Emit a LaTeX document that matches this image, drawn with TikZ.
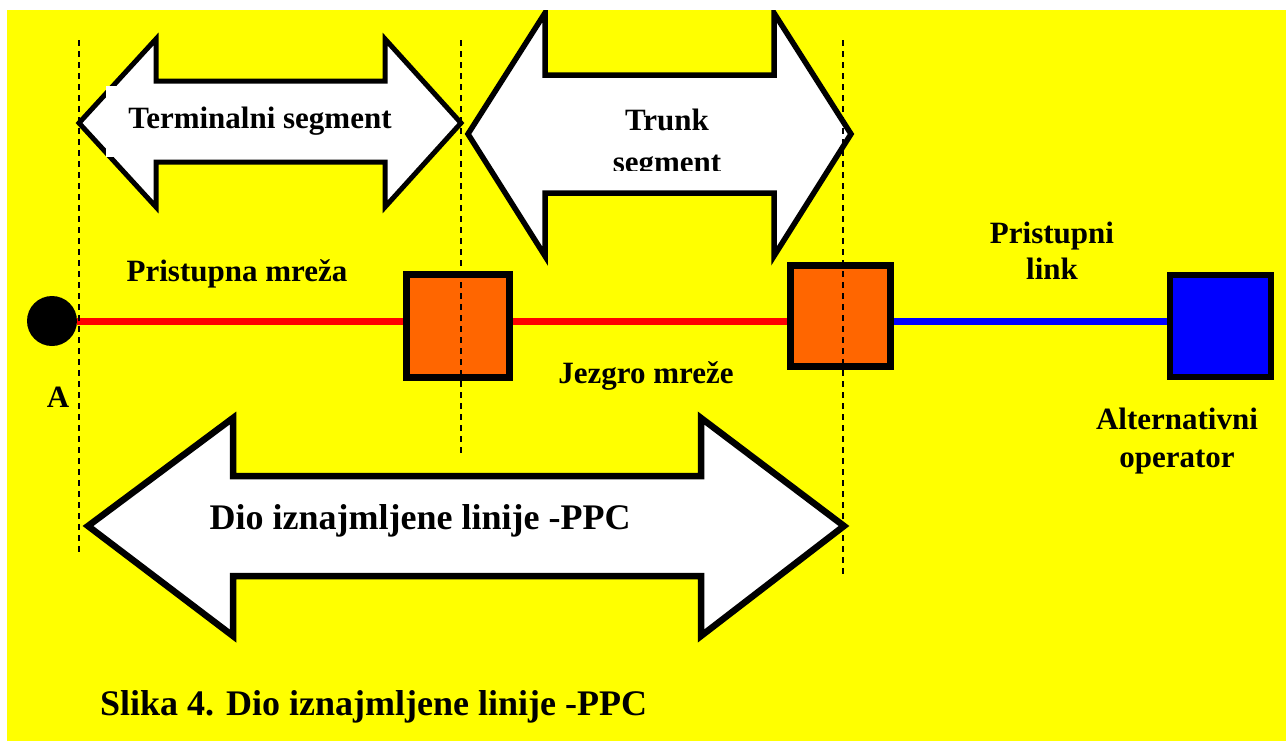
\documentclass[tikz,border=0pt]{standalone}
\usepackage{fontspec}
\setmainfont{Liberation Serif}
\definecolor{bgyellow}{HTML}{FFFF00}
\definecolor{boxorange}{HTML}{FF6600}
\definecolor{boxblue}{HTML}{0000FF}
\definecolor{linered}{HTML}{FF0000}
\begin{document}
\begin{tikzpicture}[x=1pt,y=-1pt,
  lbl/.style={font=\bfseries\fontsize{31}{36}\selectfont, inner sep=0pt, text=black},
  biglbl/.style={font=\bfseries\fontsize{36}{40}\selectfont, inner sep=0pt, text=black},
  segarrow/.style={draw=black, fill=white, line join=miter},
  sqbox/.style={draw=black, line width=7pt, inner sep=0pt},
  conn/.style={line width=7pt},
  guide/.style={draw=black, line width=1.4pt, dash pattern=on 6pt off 5pt}]
\useasboundingbox (0,0) rectangle (1286,742);
\fill[bgyellow] (7,10) rectangle (1286,741);

\begin{scope}
\clip (7,10) rectangle (1286,741);
% Terminalni segment arrow
\draw[segarrow, line width=5pt] (79,123) -- (156,39) -- (156,81) -- (385,81) -- (385,39)
  -- (461,123) -- (385,207) -- (385,162) -- (156,162) -- (156,207) -- cycle;
\fill[white] (106,86) rectangle (414,157);
% Trunk segment arrow
\draw[segarrow, line width=5.5pt] (468,134) -- (545,13) -- (545,75) -- (774,75) -- (774,13)
  -- (851,134) -- (774,256) -- (774,193) -- (545,193) -- (545,256) -- cycle;
% Dio iznajmljene linije arrow
\draw[segarrow, line width=6.5pt] (88,526) -- (233,418) -- (233,476) -- (701,476) -- (701,418)
  -- (844,526) -- (701,636) -- (701,576) -- (233,576) -- (233,636) -- cycle;
\end{scope}

% nodes
\node[circle, fill=black, minimum width=50pt, minimum height=50pt, inner sep=0pt] (A) at (52,321) {};
\node[sqbox, fill=boxorange, minimum width=103pt, minimum height=103pt] (s1) at (458,326) {};
\node[sqbox, fill=boxorange, minimum width=100pt, minimum height=101pt] (s2) at (840.5,316) {};
\node[sqbox, line width=6pt, fill=boxblue, minimum width=101pt, minimum height=102pt] (b) at (1220.5,326) {};

% connectors
\draw[conn, linered] (A.east |- 0,321.5) -- (s1.west |- 0,321.5);
\draw[conn, linered] (s1.east |- 0,321.5) -- (s2.west |- 0,321.5);
\draw[conn, boxblue] (s2.east |- 0,321.5) -- (b.west |- 0,321.5);

% dashed guides
\coordinate (g1t) at (79,40);  \coordinate (g1b) at (79,552);
\coordinate (g2t) at (461,40); \coordinate (g2b) at (461,456);
\coordinate (g3t) at (843,40); \coordinate (g3b) at (843,578);
\draw[guide] (g1t) -- (g1b);
\draw[guide] (g2t) -- (g2b);
\draw[guide] (g3t) -- (g3b);

% texts
\node[lbl, anchor=base] (tterm) at (260,128) {Terminalni segment};
\begin{scope}
\clip (470,80) rectangle (860,170);
\node[lbl, anchor=base] (ttrunk) at (667,130) {Trunk};
\node[lbl, anchor=base] (tseg) at (667,172) {segment};
\end{scope}
\node[lbl, anchor=base] (tpm) at (237,281) {Pristupna mreža};
\node[lbl, anchor=base] (tA) at (58,407) {A};
\node[lbl, anchor=base] (tjm) at (646,383) {Jezgro mreže};
\node[lbl, anchor=base] (tpl1) at (1052,243) {Pristupni};
\node[lbl, anchor=base] (tpl2) at (1052,279) {link};
\node[lbl, anchor=base] (tao1) at (1177,429) {Alternativni};
\node[lbl, anchor=base] (tao2) at (1177,467) {operator};
\node[biglbl, anchor=base] (tdio) at (420,529) {Dio iznajmljene linije -PPC};
\node[biglbl, anchor=base west] (tcap) at (100,715) {Slika 4. Dio iznajmljene linije -PPC};
\end{tikzpicture}
\end{document}
